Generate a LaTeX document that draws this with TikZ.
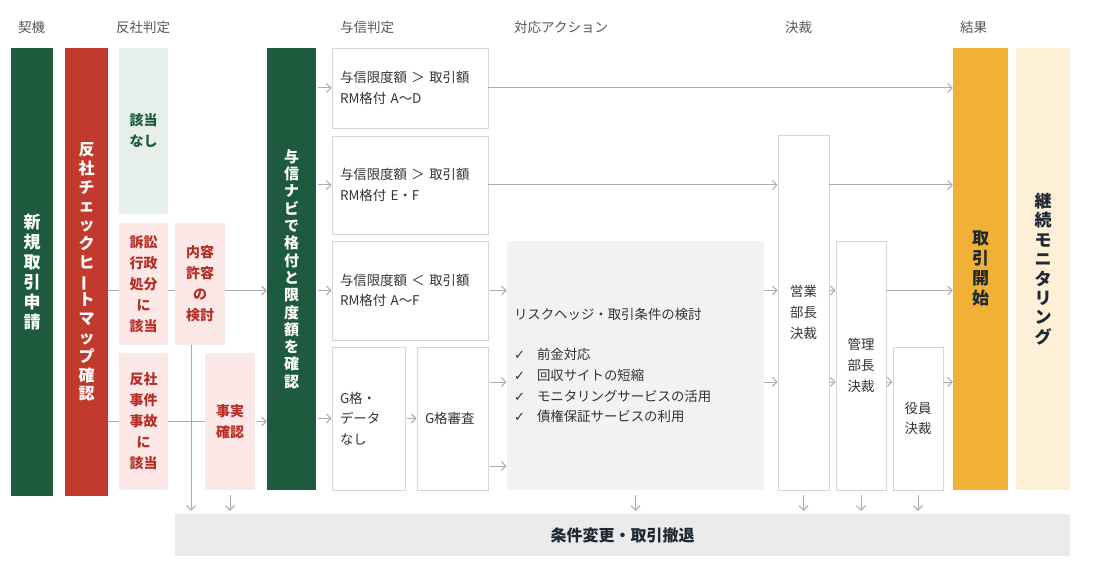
\documentclass[tikz,border=0pt]{standalone}
\usepackage{fontspec}
\usepackage{graphicx}
\setmainfont{Noto Sans CJK JP}
\newfontfamily\symfont{DejaVu Sans}
\usepackage{tikz}
\usetikzlibrary{arrows.meta}

\definecolor{navigreen}{HTML}{1E5B3E}
\definecolor{checkred}{HTML}{C23A2D}
\definecolor{palegreen}{HTML}{E6EFEA}
\definecolor{palepink}{HTML}{FCE8E7}
\definecolor{textred}{HTML}{B52F27}
\definecolor{startorange}{HTML}{F0B134}
\definecolor{cream}{HTML}{FDF0D6}
\definecolor{hedgegray}{HTML}{F2F2F2}
\definecolor{bargray}{HTML}{EBEBEB}
\definecolor{framegray}{HTML}{D6D6D6}
\definecolor{linegray}{HTML}{A7ADB5}
\definecolor{ink}{HTML}{333333}
\definecolor{headgray}{HTML}{555555}
\definecolor{darkink}{HTML}{1F2933}

\newcommand{\chouon}{\rotatebox[origin=c]{90}{ー}}
\newcommand{\tick}{\makebox[23pt][l]{\symfont\fontsize{13}{14}\selectfont ✓}}

\begin{document}
\begin{tikzpicture}[
        x=1pt, y=-1pt,
        >={Straight Barb[length=4.5pt,width=9pt]},
        every node/.style={inner sep=0pt},
        tall/.style={align=center, font=\bfseries\fontsize{16}{18.8}\selectfont},
        pale/.style={align=center, font=\bfseries\fontsize{14}{21}\selectfont},
        frame/.style={draw=framegray, fill=white, line width=0.8pt, text=ink,
                      font=\fontsize{13.4}{20.7}\selectfont},
        memo/.style={frame, align=left, inner xsep=8pt},
        judge/.style={frame, align=center, minimum width=50pt},
        head/.style={anchor=west, text=headgray, font=\fontsize{13.5}{16}\selectfont},
        link/.style={draw=linegray, line width=1pt},
        flow/.style={link, ->},
        drop/.style={flow, shorten <=5pt, shorten >=3pt}]

    \useasboundingbox (0,0) rectangle (1100,577);

    \node [head] (hdTrigger) at (18,27)  {契機};
    \node [head] (hdCheck)   at (116,27) {反社判定};
    \node [head] (hdCredit)  at (340,27) {与信判定};
    \node [head] (hdAction)  at (514,27) {対応アクション};
    \node [head] (hdDecide)  at (785,27) {決裁};
    \node [head] (hdResult)  at (960,27) {結果};

    \node [tall, fill=navigreen, text=white, minimum width=42pt, minimum height=448pt,
           font=\bfseries\fontsize{17}{20}\selectfont]
          (apply) at (32,272) {新\\規\\取\\引\\申\\請};
    \node [tall, fill=checkred, text=white, minimum width=43pt, minimum height=448pt]
          (check) at (86.5,272) {反\\社\\チ\\ェ\\ッ\\ク\\ヒ\\\chouon\\ト\\マ\\ッ\\プ\\確\\認};

    \node [pale, fill=palegreen, text=navigreen, minimum width=49pt, minimum height=166pt]
          (clear) at (143.5,131) {該当\\なし};
    \node [pale, fill=palepink, text=textred, minimum width=49pt, minimum height=122pt]
          (lawsuit) at (143.5,284) {訴訟\\行政\\処分\\に\\該当};
    \node [pale, fill=palepink, text=textred, minimum width=49pt, minimum height=137pt]
          (incident) at (143.5,421.5) {反社\\事件\\事故\\に\\該当};
    \node [pale, fill=palepink, text=textred, minimum width=50pt, minimum height=122pt]
          (review) at (200,284) {内容\\許容\\の\\検討};
    \node [pale, fill=palepink, text=textred, minimum width=50pt, minimum height=137pt]
          (fact) at (230,421.5) {事実\\確認};

    \node [tall, fill=navigreen, text=white, minimum width=49pt, minimum height=442pt,
           font=\bfseries\fontsize{15}{17.3}\selectfont]
          (navi) at (291.5,269) {与\\信\\ナ\\ビ\\で\\格\\付\\と\\限\\度\\額\\を\\確\\認};

    \node [memo, text width=140pt, minimum height=80pt] (lim1) at (410,88)
          {与信限度額 ＞ 取引額\\RM格付 A〜D};
    \node [memo, text width=140pt, minimum height=98pt] (lim2) at (410,185)
          {与信限度額 ＞ 取引額\\RM格付 E・F};
    \node [memo, text width=140pt, minimum height=99pt] (lim3) at (410,290.5)
          {与信限度額 ＜ 取引額\\RM格付 A〜F};
    \node [memo, text width=57pt, minimum height=143pt] (gnone) at (368.5,418.5)
          {G格・\\データ\\なし};
    \node [memo, text width=55pt, minimum height=143pt] (greview) at (452.5,418.5)
          {G格審査};

    \node [memo, draw=none, fill=hedgegray, text width=243pt, inner xsep=7pt,
           minimum height=249pt] (hedge) at (635.5,365.5)
          {リスクヘッジ・取引条件の検討\\[20pt]
           \tick 前金対応\\
           \tick 回収サイトの短縮\\
           \tick モニタリングサービスの活用\\
           \tick 債権保証サービスの利用};

    \node [judge, minimum width=51pt, minimum height=355pt] (sales) at (803.5,312.5) {営業\\部長\\決裁};
    \node [judge, minimum height=249pt] (admin) at (861,365.5) {管理\\部長\\決裁};
    \node [judge, minimum height=143pt] (board) at (918,418.5) {役員\\決裁};

    \node [tall, fill=startorange, text=darkink, minimum width=55pt, minimum height=442pt,
           font=\bfseries\fontsize{17}{20}\selectfont]
          (start) at (980.5,269) {取\\引\\開\\始};
    \node [tall, fill=cream, text=darkink, minimum width=54pt, minimum height=442pt,
           font=\bfseries\fontsize{17}{19.4}\selectfont]
          (monitor) at (1043,269) {継\\続\\モ\\ニ\\タ\\リ\\ン\\グ};

    \node [fill=bargray, text=darkink, minimum width=895pt, minimum height=42pt,
           font=\bfseries\fontsize{16}{18}\selectfont]
          (exitbar) at (622.5,535) {条件変更・取引撤退};

    \coordinate (rowA) at (0,382);
    \coordinate (rowB) at (0,466);

    \path (check.east |- lim3)     edge [link] (lawsuit.west |- lim3)
          (lawsuit.east |- lim3)   edge [link] (review.west |- lim3)
          (review.east |- lim3)    edge [flow] (navi.west |- lim3)
          (check.east |- incident) edge [link] (incident.west)
          (incident.east)          edge [link] (fact.west)
          (fact.east)              edge [flow, shorten <=2pt] (navi.west |- fact)
          ([xshift=-9pt]review.south) edge [flow, shorten >=3pt] ([xshift=-9pt]review.south |- exitbar.north)
          (fact.south)             edge [drop] (fact.south |- exitbar.north);

    \path (navi.east |- lim1)  edge [flow, shorten <=2pt] (lim1.west)
          (navi.east |- lim2)  edge [flow, shorten <=2pt] (lim2.west)
          (navi.east |- lim3)  edge [flow, shorten <=2pt] (lim3.west)
          (navi.east |- gnone) edge [flow, shorten <=2pt] (gnone.west)
          (gnone.east)         edge [flow, shorten <=2pt] (greview.west);

    \path (lim1.east)             edge [flow] (start.west |- lim1)
          (lim2.east)             edge [flow] (sales.west |- lim2)
          (sales.east |- lim2)    edge [flow] (start.west |- lim2)
          (lim3.east)             edge [flow, shorten <=2pt] (hedge.west |- lim3)
          (greview.east |- rowA)  edge [flow, shorten <=2pt] (hedge.west |- rowA)
          (greview.east |- rowB)  edge [flow, shorten <=2pt] (hedge.west |- rowB);

    \path (hedge.east |- lim3)  edge [flow] (sales.west |- lim3)
          (hedge.east |- rowA)  edge [flow] (sales.west |- rowA)
          (sales.east |- lim3)  edge [flow] (admin.west |- lim3)
          (admin.east |- lim3)  edge [flow] (start.west |- lim3)
          (sales.east |- rowA)  edge [flow] (admin.west |- rowA)
          (admin.east |- rowA)  edge [flow] (board.west |- rowA)
          (board.east |- rowA)  edge [flow] (start.west |- rowA);

    \path (hedge.south) edge [drop] (hedge.south |- exitbar.north)
          (sales.south) edge [drop] (sales.south |- exitbar.north)
          (admin.south) edge [drop] (admin.south |- exitbar.north)
          (board.south) edge [drop] (board.south |- exitbar.north);
\end{tikzpicture}
\end{document}
